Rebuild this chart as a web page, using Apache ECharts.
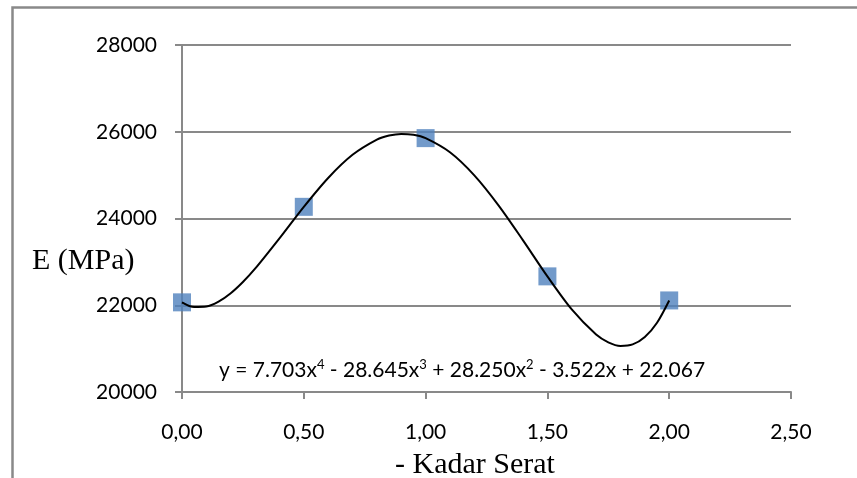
<!DOCTYPE html>
<html>
<head>
<meta charset="utf-8">
<script src="https://cdn.jsdelivr.net/npm/echarts@6/dist/echarts.min.js"></script>
<style>html,body{margin:0;padding:0;background:#fff;}#c{width:857px;height:478px;}</style>
</head>
<body>
<div id="c"></div>
<script>
var kadarSerat = [0, 0.5, 1.0, 1.5, 2.0];
var modulusE = [22067, 24269, 25853, 22666, 22111];
var trendX = [0, 0.05, 0.1, 0.15, 0.2, 0.25, 0.3, 0.4, 0.5, 0.6, 0.7, 0.8, 0.85, 0.9, 0.95, 1.0, 1.1, 1.2, 1.3, 1.4, 1.5, 1.6, 1.7, 1.75, 1.8, 1.85, 1.9, 1.95, 2.0];
var trendY = [22067, 21958, 21969, 22082, 22276, 22535, 22842, 23542, 24269, 24935, 25468, 25818, 25913, 25951, 25931, 25853, 25527, 24995, 24298, 23496, 22666, 21904, 21325, 21146, 21063, 21097, 21268, 21598, 22111];
var yTicks = [20000, 22000, 24000, 26000, 28000];
var xTickLabels = ['0,00', '0,50', '1,00', '1,50', '2,00', '2,50'];
var equationRich = '{b|y = 7.703x}{s|4}{b| - 28.645x}{s|3}{b| + 28.250x}{s|2}{b| - 3.522x + 22.067}';

var chart = echarts.init(document.getElementById('c'), null, {renderer: 'canvas'});
var gray = '#898989';
var tickFont = 'Lato, "Open Sans", sans-serif';
chart.setOption({
  animation: false,
  backgroundColor: '#fff',
  grid: {left: 182, right: 66, top: 45, bottom: 86, containLabel: false},
  xAxis: {
    type: 'value', min: 0, max: 2.5, interval: 0.5,
    axisLine: {show: true, lineStyle: {color: gray, width: 2}},
    axisTick: {show: true, inside: false, length: 7, lineStyle: {color: gray, width: 2}},
    splitLine: {show: false},
    axisLabel: {color: '#000', fontFamily: tickFont, fontSize: 21, margin: 30,
      formatter: function (v) { return xTickLabels[Math.round(v / 0.5)]; }}
  },
  yAxis: {
    type: 'value', min: yTicks[0], max: yTicks[yTicks.length - 1], interval: 2000,
    axisLine: {show: true, lineStyle: {color: gray, width: 2}},
    axisTick: {show: true, inside: false, length: 7, lineStyle: {color: gray, width: 2}},
    splitLine: {show: true, lineStyle: {color: gray, width: 2}},
    axisLabel: {color: '#000', fontFamily: tickFont, fontSize: 21, margin: 25,
      formatter: function (v) { return String(v); }}
  },
  series: [
    {
      type: 'line', data: trendX.map(function (x, i) { return [x, trendY[i]]; }),
      smooth: 0.3, showSymbol: false, lineStyle: {color: '#000', width: 2}, z: 3
    },
    {
      type: 'scatter', data: kadarSerat.map(function (x, i) { return [x, modulusE[i]]; }),
      symbol: 'rect', symbolSize: 18, itemStyle: {color: '#4F81BD'}, z: 2
    }
  ],
  graphic: [
    {type: 'rect', left: 10, top: 5, shape: {x: 0, y: 0, width: 900, height: 520},
      style: {fill: 'none', stroke: gray, lineWidth: 2.5}, silent: true},
    {type: 'text', left: 32, top: 246, style: {text: 'E (MPa)', fill: '#000', font: '30px "Liberation Serif", serif'}},
    {type: 'text', left: 395, top: 450, style: {text: '- Kadar Serat', fill: '#000', font: '30px "Liberation Serif", serif'}},
    {type: 'text', left: 219, top: 358, style: {text: equationRich, fill: '#000',
      rich: {
        b: {fontFamily: tickFont, fontSize: 21, color: '#000', lineHeight: 24},
        s: {fontFamily: tickFont, fontSize: 13, color: '#000', lineHeight: 24, verticalAlign: 'top', padding: [0, 0, 8, 0]}
      }}}
  ]
});
</script>
</body>
</html>
